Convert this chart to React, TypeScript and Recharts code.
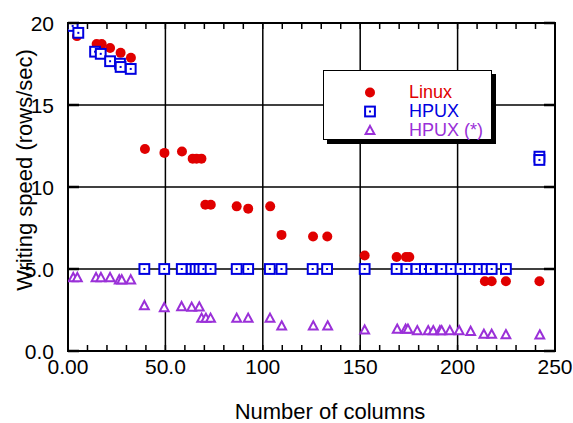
import React from "react";
import { ScatterChart, Scatter, XAxis, YAxis, CartesianGrid, Legend, ReferenceArea, Label } from "recharts";

// [columns, rows/sec]
const linux = [
  [4.6, 19.2],
  [14.7, 18.72], [17.3, 18.72], [21.6, 18.48], [27, 18.18], [32.3, 17.88],
  [39.5, 12.32], [49.5, 12.08], [58.5, 12.16], [64, 11.73], [66, 11.73], [68.5, 11.73],
  [70.5, 8.92], [73.3, 8.92], [86.6, 8.82], [92.5, 8.68], [103.8, 8.82],
  [109.6, 7.08], [125.8, 6.98], [133.1, 6.98],
  [152.3, 5.82],
  [168.7, 5.73], [173.5, 5.73], [175.2, 5.73],
  [214, 4.25], [217.5, 4.25], [224.8, 4.25], [242, 4.25],
];

const hpux = [
  [2.4, 19.82], [5.3, 19.4], [13.9, 18.25], [16.8, 18.12], [21.6, 17.67], [26.7, 17.52], [27, 17.32], [32.2, 17.2],
  [39.2, 5], [49.4, 5], [58.4, 5], [63.5, 5], [65.5, 5], [67.5, 5], [69.5, 5], [73.2, 5],
  [86.6, 5], [92.5, 5], [103.6, 5], [109.6, 5], [125.6, 5], [133, 5], [152.3, 5],
  [168.7, 5], [173.8, 5], [178.9, 5], [183.2, 5], [186.3, 5], [191.8, 5], [196.7, 5],
  [201.5, 5], [206.3, 5], [211.1, 5], [214.9, 5], [217.5, 5], [224.8, 5],
  [242, 11.85], [242, 11.65],
];

const hpuxStar = [
  [2.7, 4.48], [4.8, 4.48], [14.4, 4.48], [16.9, 4.48], [21.6, 4.48], [26.3, 4.34], [27.6, 4.34], [32.2, 4.34],
  [39.2, 2.77], [49.4, 2.65], [58.3, 2.71], [63.5, 2.67], [67.4, 2.69],
  [68.6, 2.0], [70.8, 2.0], [73.2, 2.0], [86.6, 2.0], [92.5, 2.0], [103.7, 2.0],
  [109.7, 1.53], [125.9, 1.53], [133.3, 1.53], [152.3, 1.28],
  [169, 1.33], [173.3, 1.33], [174.5, 1.33], [179.3, 1.24], [184.9, 1.24], [187.5, 1.24],
  [190.9, 1.24], [191.8, 1.24], [196, 1.24], [200.8, 1.24], [206.7, 1.2],
  [213.5, 1.02], [217.5, 1.02], [224.8, 1.0], [242.2, 0.98],
];

const xTicks = [0, 50, 100, 150, 200, 250];
const xTickLabels = ["0.00", "50.0", "100", "150", "200", "250"];
const xMinorTicks = [0, 10, 20, 30, 40, 50, 60, 70, 80, 90, 100, 110, 120, 130, 140, 150, 160, 170, 180, 190, 200, 210, 220, 230, 240, 250];
const yTicks = [0, 5, 10, 15, 20];
const yTickLabels = ["0.0", "5.0", "10", "15", "20"];

const RED = "#e00000";
const BLUE = "#0000e0";
const PURPLE = "#9a30d8";
const FONT = "'Liberation Sans', Arial, Helvetica, sans-serif";

const W = 573;
const H = 423;
const MARGIN = { top: 23, right: 18, left: 0, bottom: 0 };
const X_AXIS_H = 72;
const Y_AXIS_W = 68;
const PLOT_W = W - MARGIN.right - Y_AXIS_W;
const PLOT_H = H - MARGIN.top - X_AXIS_H;
const X_GAP = 8;
const Y_GAP = 14;

const pts = (rows: number[][]) => rows.map(([x, y]) => ({ x, y }));

const Dot = (p: any) => <circle cx={p.cx} cy={p.cy} r={5} fill={RED} />;
const Box = (p: any) => (
  <g>
    <rect x={p.cx - 4.9} y={p.cy - 4.9} width={9.8} height={9.8} fill="#fff" stroke={BLUE} strokeWidth={2} />
    <rect x={p.cx - 1} y={p.cy - 1} width={2} height={2} fill={BLUE} />
  </g>
);
const Tri = (p: any) => (
  <path
    d={`M${p.cx},${p.cy - 4.6}L${p.cx + 4.4},${p.cy + 3.6}L${p.cx - 4.4},${p.cy + 3.6}Z`}
    fill="#fff"
    stroke={PURPLE}
    strokeWidth={2}
  />
);

const series = [
  { name: "Linux", color: RED, shape: Dot, data: pts(linux) },
  { name: "HPUX", color: BLUE, shape: Box, data: pts(hpux) },
  { name: "HPUX (*)", color: PURPLE, shape: Tri, data: pts(hpuxStar) },
];

// bottom tick: inward minor marks at bottom and top of the frame, label on majors
function XTick(p: any) {
  const v = p.payload.value;
  const base = p.y - X_GAP;
  const i = xTicks.indexOf(v);
  return (
    <g>
      <line x1={p.x} x2={p.x} y1={base} y2={base - 6} stroke="#000" strokeWidth={1.5} />
      <line x1={p.x} x2={p.x} y1={base - PLOT_H} y2={base - PLOT_H + 6} stroke="#000" strokeWidth={1.5} />
      {i >= 0 && (
        <text x={p.x} y={p.y} dy="0.71em" textAnchor="middle" fontSize={21} fill="#000" fontFamily={FONT}>
          {xTickLabels[i]}
        </text>
      )}
    </g>
  );
}

function YTick(p: any) {
  const v = p.payload.value;
  const base = p.x + Y_GAP;
  const i = yTicks.indexOf(v);
  return (
    <g>
      <line x1={base} x2={base + 11} y1={p.y} y2={p.y} stroke="#000" strokeWidth={2.5} />
      <line x1={base + PLOT_W - 11} x2={base + PLOT_W} y1={p.y} y2={p.y} stroke="#000" strokeWidth={2.5} />
      <text x={p.x} y={p.y} dy="0.36em" textAnchor="end" fontSize={21} fill="#000" fontFamily={FONT}>
        {yTickLabels[i]}
      </text>
    </g>
  );
}

function LegendBox() {
  return (
    <div
      style={{
        width: 169,
        height: 70,
        boxSizing: "border-box",
        border: "1.5px solid #000",
        background: "#fff",
        boxShadow: "4px 4px 0 #000",
        position: "relative",
        fontFamily: FONT,
      }}
    >
      {series.map((s, i) => {
        const Shape = s.shape;
        return (
          <div key={s.name} style={{ position: "absolute", left: 0, top: 12 + i * 19, height: 19, width: "100%" }}>
            <svg width={20} height={19} style={{ position: "absolute", left: 36, top: 0 }}>
              <Shape cx={10} cy={9.5} />
            </svg>
            <span style={{ position: "absolute", left: 85, top: 0, lineHeight: "19px", fontSize: 18, color: s.color }}>
              {s.name}
            </span>
          </div>
        );
      })}
    </div>
  );
}

export default function App() {
  return (
    <div style={{ width: W, height: H, background: "#fff", fontFamily: FONT }}>
      <style>{"body{margin:0}"}</style>
      <ScatterChart width={W} height={H} margin={MARGIN}>
        <CartesianGrid stroke="#000" strokeWidth={1.5} verticalValues={xTicks} horizontalValues={yTicks} />
        <XAxis
          dataKey="x"
          type="number"
          domain={[0, 250]}
          allowDataOverflow
          ticks={xMinorTicks}
          interval={0}
          tickLine={false}
          axisLine={false}
          tickSize={0}
          tickMargin={X_GAP}
          height={X_AXIS_H}
          tick={<XTick />}
        >
          <Label
            content={() => (
              <text x={330} y={419} textAnchor="middle" fontSize={22} fill="#000" fontFamily={FONT}>
                Number of columns
              </text>
            )}
          />
        </XAxis>
        <YAxis
          dataKey="y"
          type="number"
          domain={[0, 20]}
          allowDataOverflow
          ticks={yTicks}
          interval={0}
          tickLine={false}
          axisLine={false}
          tickSize={0}
          tickMargin={Y_GAP}
          width={Y_AXIS_W}
          tick={<YTick />}
        >
          <Label
            content={() => (
              <text transform="translate(32,170) rotate(-90)" textAnchor="middle" fontSize={22} fill="#000" fontFamily={FONT}>
                Writing speed (rows/sec)
              </text>
            )}
          />
        </YAxis>
        <ReferenceArea x1={0} x2={250} y1={0} y2={20} fill="none" stroke="#000" strokeWidth={2} />
        {series.map((s) => (
          <Scatter key={s.name} name={s.name} data={s.data} fill={s.color} shape={s.shape} isAnimationActive={false} />
        ))}
        <Legend
          layout="vertical"
          align="center"
          verticalAlign="middle"
          wrapperStyle={{ position: "absolute", left: 323, top: 70, width: 169, height: 70 }}
          content={() => <LegendBox />}
        />
      </ScatterChart>
    </div>
  );
}
